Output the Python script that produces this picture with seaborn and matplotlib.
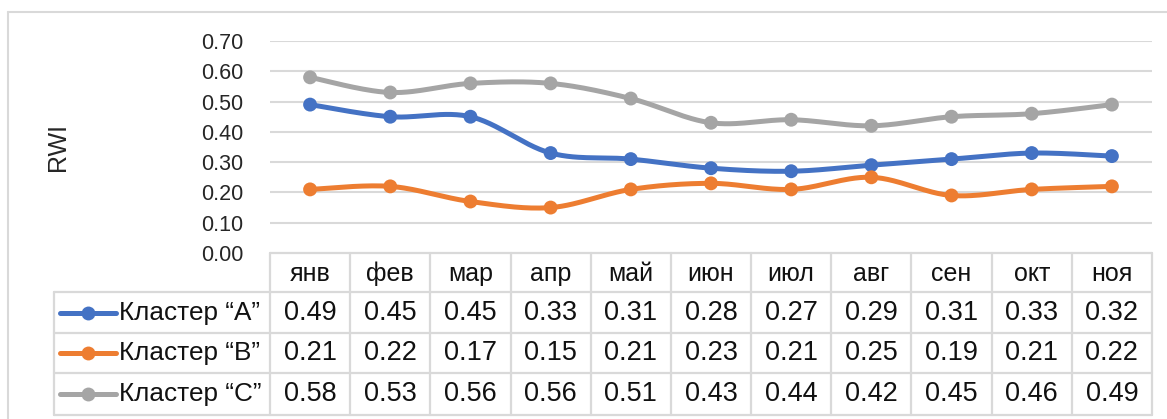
import numpy as np
import pandas as pd
import matplotlib
matplotlib.use("Agg")
import matplotlib.pyplot as plt
import seaborn as sns
import matplotlib.transforms as mtransforms
from matplotlib.lines import Line2D

# ---------------- data ----------------
months = ["янв", "фев", "мар", "апр", "май", "июн", "июл", "авг", "сен", "окт", "ноя"]
series_names = ["Кластер “A”", "Кластер “B”", "Кластер “C”"]
cluster_a = [0.49, 0.45, 0.45, 0.33, 0.31, 0.28, 0.27, 0.29, 0.31, 0.33, 0.32]
cluster_b = [0.21, 0.22, 0.17, 0.15, 0.21, 0.23, 0.21, 0.25, 0.19, 0.21, 0.22]
cluster_c = [0.58, 0.53, 0.56, 0.56, 0.51, 0.43, 0.44, 0.42, 0.45, 0.46, 0.49]
y_ticks = [0.00, 0.10, 0.20, 0.30, 0.40, 0.50, 0.60, 0.70]
y_label = "RWI"
colors = ["#4472C4", "#ED7D31", "#A5A5A5"]

sns.set_style("white")
plt.rcParams["font.family"] = ["Liberation Sans", "DejaVu Sans"]

W, H = 1167, 419
fig = plt.figure(figsize=(W / 100, H / 100), dpi=100)
ax = fig.add_axes([270 / W, 1 - 253 / H, (1152 - 270) / W, (253 - 41) / H])

GRID = "#D9D9D9"
LW = 3.6


def smooth(vals, n=30):
    """Excel-like smoothed line (Bezier with Catmull-Rom control points)."""
    p = np.column_stack([np.arange(len(vals), dtype=float), np.asarray(vals, float)])
    out = []
    for i in range(len(p) - 1):
        p0 = p[i - 1] if i > 0 else p[i]
        p3 = p[i + 2] if i + 2 < len(p) else p[i + 1]
        c1 = p[i] + (p[i + 1] - p0) / 6.0
        c2 = p[i + 1] - (p3 - p[i]) / 6.0
        t = np.linspace(0, 1, n)[:, None]
        seg = ((1 - t) ** 3) * p[i] + 3 * ((1 - t) ** 2) * t * c1 + 3 * (1 - t) * t ** 2 * c2 + t ** 3 * p[i + 1]
        out.append(seg if i == 0 else seg[1:])
    return np.vstack(out)


all_series = [cluster_a, cluster_b, cluster_c]
for k, (name, vals, col) in enumerate(zip(series_names, all_series, colors)):
    cur = smooth(vals)
    sns.lineplot(x=cur[:, 0], y=cur[:, 1], sort=False, color=col, lw=LW, ax=ax,
                 zorder=3 + k, estimator=None)
    sns.scatterplot(x=np.arange(len(vals)), y=vals, color=col, s=100, edgecolor="none",
                    ax=ax, zorder=3.5 + k)

ax.set_xlim(-0.5, len(months) - 0.5)
ax.set_ylim(0, 0.70)
ax.set_yticks(y_ticks)
ax.set_yticklabels([f"{v:.2f}" for v in y_ticks], fontsize=15.5, color="#262626")
ax.set_xticks([])
ax.tick_params(axis="y", length=0, pad=19)
for yv in y_ticks[1:]:
    ax.axhline(yv, color=GRID, lw=1.5, zorder=1)
for s in ax.spines.values():
    s.set_visible(False)
ax.set_ylabel("")
fig.text(58 / W, 1 - 147 / H, y_label, rotation=90, ha="center", va="center",
         fontsize=18, color="#262626")

# ---------------- data table ----------------
bt = mtransforms.blended_transform_factory(ax.transData, fig.transFigure)
ft = fig.transFigure
rows_px = [253, 292, 333, 373, 415]
fy = [1 - r / H for r in rows_px]
x0 = -0.5
leg_left = 54 / W
ax_left = 270 / W
ax_right = 1152 / W


def hline(y, xa, xb):
    fig.add_artist(Line2D([xa, xb], [y, y], transform=ft, color=GRID, lw=1.6, clip_on=False))


def vline(x, ya, yb, tr):
    fig.add_artist(Line2D([x, x], [ya, yb], transform=tr, color=GRID, lw=1.6, clip_on=False))


hline(fy[0], ax_left, ax_right)
for y in fy[1:]:
    hline(y, leg_left, ax_right)
for k in range(len(months) + 1):
    vline(x0 + k, fy[0], fy[-1], bt)
vline(leg_left, fy[1], fy[-1], ft)

tcol = "#111111"
for j, m in enumerate(months):
    fig.text(j, (fy[0] + fy[1]) / 2 - 0.004, m, transform=bt, ha="center", va="center",
             fontsize=18, color=tcol)

for i, (name, vals, col) in enumerate(zip(series_names, all_series, colors)):
    yc = (fy[i + 1] + fy[i + 2]) / 2
    for j, v in enumerate(vals):
        fig.text(j, yc, f"{v:.2f}", transform=bt, ha="center", va="center",
                 fontsize=19.5, color=tcol)
    fig.add_artist(Line2D([60 / W, 116 / W], [yc, yc], transform=ft, color=col, lw=LW))
    fig.add_artist(Line2D([88 / W], [yc], transform=ft, color=col, marker="o",
                          markersize=10, markeredgewidth=0, linestyle="none"))
    fig.text(119 / W, yc, name, transform=ft, ha="left", va="center",
             fontsize=18.8, color=tcol)

# chart border (cropped on right and bottom)
fig.add_artist(Line2D([8 / W, 8 / W], [1 - 12 / H, 0], transform=ft, color=GRID, lw=1.5))
fig.add_artist(Line2D([8 / W, 1], [1 - 12 / H, 1 - 12 / H], transform=ft, color=GRID, lw=1.5))

fig.savefig("out.png", dpi=100, facecolor="white")
